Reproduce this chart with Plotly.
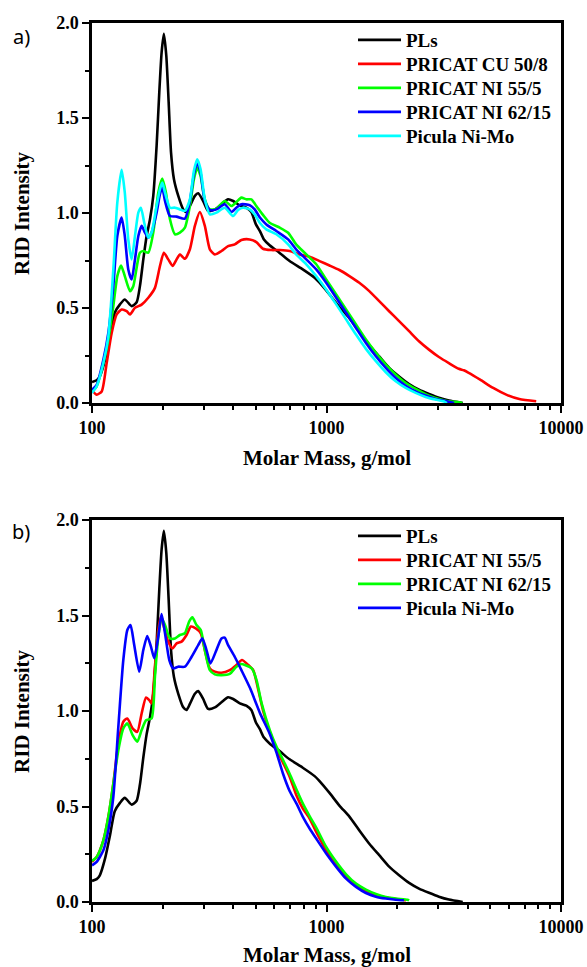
import plotly.graph_objects as go

W, H = 587, 967

# ---------------- data ----------------
# PLs (shared by both panels)
pls_M = [100, 104.7, 108, 113.7, 119.4, 125, 131.6, 138, 147.6, 155, 160.1, 165.5, 171, 176.7, 182.5, 188.6,
         193.6, 198.1, 202.5, 207.4, 212.3, 217.3, 223.6, 233.3, 245, 253, 261.5, 274.6, 283.7, 297.9, 312.8,
         334, 356.6, 380.6, 400, 427, 455, 478, 500, 520, 540, 572, 631, 696, 792, 890, 934, 1030, 1135, 1252,
         1380, 1522, 1678, 1850, 2040, 2250, 2480, 2735, 3016, 3325, 3810]
pls_I = [0.11, 0.12, 0.14, 0.228, 0.351, 0.475, 0.519, 0.545, 0.510, 0.530, 0.615, 0.756, 0.879, 0.967, 1.090,
         1.353, 1.635, 1.846, 1.943, 1.828, 1.582, 1.318, 1.178, 1.090, 1.019, 1.005, 1.037, 1.090, 1.104, 1.063,
         1.011, 1.019, 1.046, 1.072, 1.063, 1.040, 1.028, 1.005, 0.94, 0.905, 0.862, 0.83, 0.79, 0.747, 0.703,
         0.659, 0.633, 0.571, 0.505, 0.447, 0.375, 0.305, 0.245, 0.185, 0.14, 0.10, 0.07, 0.048, 0.028, 0.013, 0.0]

# Panel a
cu508_M = [100, 104.7, 110, 115.5, 121.3, 127.4, 133.8, 140.5, 145.2, 152.5, 162.8, 173.8, 185.5, 194.9, 202.5,
           211.4, 220.6, 229.5, 237, 249, 261.5, 274.6, 288.4, 302.8, 318, 334, 356.6, 380.6, 406.3, 433.6, 470.5,
           502, 536, 581, 632, 697, 768, 847, 934, 1030, 1135, 1252, 1380, 1522, 1678, 1850, 2040, 2250, 2480,
           2735, 3016, 3325, 3667, 3850, 4022, 4520, 5138, 5840, 6640, 7840]
cu508_I = [0.067, 0.044, 0.061, 0.211, 0.369, 0.466, 0.492, 0.483, 0.466, 0.501, 0.518, 0.554, 0.606, 0.721,
           0.791, 0.756, 0.721, 0.756, 0.782, 0.759, 0.809, 0.932, 1.005, 0.932, 0.809, 0.782, 0.800, 0.826, 0.835,
           0.858, 0.861, 0.847, 0.812, 0.805, 0.805, 0.800, 0.782, 0.770, 0.747, 0.724, 0.700, 0.668, 0.633, 0.589,
           0.536, 0.483, 0.431, 0.378, 0.325, 0.281, 0.242, 0.210, 0.180, 0.172, 0.160, 0.123, 0.079, 0.044, 0.021,
           0.009]

ni555a_M = [100, 104.7, 111.8, 117.4, 123.3, 128.2, 133, 138, 145.2, 150, 155, 160, 165.5, 173.8, 182.5, 191.7,
            199.4, 206.7, 215, 225.8, 237, 249, 261.5, 272, 281, 290.3, 302.8, 318, 339.5, 368, 393.2, 412.9,
            433.6, 455.4, 478, 502, 536, 572, 632, 686, 742, 820, 904, 997, 1100, 1212, 1336, 1473, 1624, 1790,
            1974, 2177, 2400, 2645, 2917, 3216, 3667, 3800]
ni555a_I = [0.061, 0.088, 0.211, 0.334, 0.510, 0.668, 0.724, 0.668, 0.589, 0.615, 0.712, 0.791, 0.800, 0.791,
            0.897, 1.107, 1.181, 1.107, 0.967, 0.888, 0.897, 0.923, 1.037, 1.178, 1.239, 1.195, 1.072, 1.019, 1.023,
            1.063, 1.037, 1.058, 1.081, 1.072, 1.072, 1.037, 0.990, 0.949, 0.923, 0.896, 0.835, 0.782, 0.730, 0.650,
            0.571, 0.492, 0.413, 0.334, 0.264, 0.202, 0.149, 0.105, 0.074, 0.047, 0.026, 0.012, 0.004, 0.0]

ni6215a_M = [100, 104.7, 111.8, 117.4, 123.3, 128.2, 133.8, 138, 142.8, 147.6, 152.5, 157.6, 162.8, 168.2, 173.8,
             179.5, 188.6, 194.9, 199.4, 204.8, 215, 229.5, 249, 261.5, 272, 281, 290.3, 302.8, 318, 339.5, 368,
             393.2, 412.9, 433.6, 470.5, 494, 520, 554, 611, 686, 742, 820, 904, 997, 1100, 1212, 1336, 1473, 1624,
             1790, 1974, 2177, 2400, 2645, 2917, 3216, 3500]
ni6215a_I = [0.070, 0.096, 0.228, 0.369, 0.615, 0.879, 0.976, 0.879, 0.703, 0.650, 0.756, 0.879, 0.932, 0.897,
             0.870, 0.897, 1.002, 1.099, 1.134, 1.063, 0.984, 0.981, 0.970, 1.063, 1.204, 1.265, 1.213, 1.063, 1.016,
             1.019, 1.046, 1.005, 1.028, 1.046, 1.041, 1.019, 0.976, 0.940, 0.905, 0.861, 0.809, 0.756, 0.703, 0.633,
             0.554, 0.475, 0.395, 0.316, 0.246, 0.185, 0.132, 0.091, 0.061, 0.039, 0.021, 0.010, 0.0]

picula_a_M = [100, 104.7, 111.8, 117.4, 123.3, 128.2, 133.8, 138, 142.8, 147.6, 152.5, 157.6, 161.7, 167, 173.8,
              179.5, 188.6, 194.9, 199.4, 204.8, 215, 225.8, 237, 249, 261.5, 272, 281, 290.3, 302.8, 318, 339.5,
              368, 399.7, 419.7, 440.8, 470.5, 494, 519, 554, 611, 686, 742, 820, 904, 997, 1100, 1212, 1336, 1473,
              1624, 1790, 1974, 2177, 2400, 2645, 2917, 3160, 3260]
picula_a_I = [0.053, 0.088, 0.211, 0.351, 0.703, 1.055, 1.227, 1.107, 0.861, 0.756, 0.879, 1.002, 1.028, 0.949,
              0.870, 0.897, 1.037, 1.125, 1.160, 1.107, 1.028, 1.028, 1.019, 1.011, 1.072, 1.222, 1.283, 1.231,
              1.072, 0.993, 1.002, 1.028, 0.984, 1.016, 1.028, 1.019, 0.993, 0.949, 0.914, 0.888, 0.835, 0.782,
              0.730, 0.668, 0.598, 0.519, 0.440, 0.360, 0.285, 0.220, 0.162, 0.114, 0.079, 0.053, 0.032, 0.018,
              0.009, 0.0]

# Panel b
ni555b_M = [100, 104.7, 111.8, 117.4, 123.3, 129.5, 136, 141.5, 149, 156, 162.8, 170, 175.5, 179.5, 185.5, 191.7,
            197, 202.5, 211.4, 220.6, 229.5, 241, 253, 264, 277, 291, 302.8, 318, 334, 356.6, 386.8, 412.9, 436,
            464, 487, 512, 538, 573, 611, 652, 697, 744, 793, 847, 904, 997, 1100, 1212, 1336, 1473, 1624, 1790,
            1974, 2107, 2180]
ni555b_I = [0.210, 0.236, 0.323, 0.446, 0.620, 0.830, 0.944, 0.961, 0.909, 0.891, 0.987, 1.071, 1.057, 1.040,
            1.232, 1.424, 1.494, 1.442, 1.363, 1.328, 1.354, 1.363, 1.398, 1.442, 1.433, 1.407, 1.319, 1.223, 1.206,
            1.200, 1.214, 1.241, 1.267, 1.241, 1.214, 1.110, 0.996, 0.89, 0.80, 0.73, 0.655, 0.559, 0.489, 0.437,
            0.367, 0.271, 0.192, 0.131, 0.088, 0.058, 0.035, 0.023, 0.016, 0.012, 0.008]

ni6215b_M = [100, 104.7, 111.8, 117.4, 123.3, 129.5, 136, 141.5, 149, 156, 162.8, 170, 179.5, 185.5, 191.7, 198,
             204.8, 215, 225.8, 237, 249, 259.5, 268, 279, 291, 302.8, 318, 334, 356.6, 386.8, 412.9, 433.6, 449,
             480, 503, 529, 573, 611, 652, 697, 744, 793, 847, 904, 997, 1100, 1212, 1336, 1473, 1624, 1790, 1974,
             2215, 2250]
ni6215b_I = [0.215, 0.236, 0.323, 0.446, 0.620, 0.795, 0.909, 0.935, 0.874, 0.839, 0.900, 0.952, 0.961, 1.179,
             1.389, 1.485, 1.450, 1.380, 1.380, 1.398, 1.407, 1.468, 1.490, 1.450, 1.424, 1.319, 1.214, 1.192, 1.188,
             1.194, 1.232, 1.246, 1.241, 1.223, 1.162, 1.040, 0.90, 0.815, 0.745, 0.67, 0.59, 0.515, 0.450, 0.390,
             0.288, 0.210, 0.145, 0.096, 0.065, 0.042, 0.026, 0.018, 0.012, 0.008]

picula_b_M = [100, 104.7, 111.8, 117.4, 123.3, 129.5, 136, 141.5, 146, 151, 159, 165.5, 172, 178.4, 184.3, 191.7,
              198, 204.8, 213.6, 222, 233, 249, 266, 283.7, 295.6, 307.8, 320, 337, 356.6, 368, 380.6, 406, 433.6,
              472, 520, 573, 611, 652, 697, 744, 793, 847, 904, 997, 1100, 1212, 1336, 1473, 1624, 1790, 1974, 2140]
picula_b_I = [0.192, 0.210, 0.271, 0.376, 0.551, 0.917, 1.267, 1.424, 1.450, 1.354, 1.206, 1.319, 1.393, 1.337,
              1.276, 1.389, 1.508, 1.407, 1.267, 1.223, 1.232, 1.232, 1.284, 1.345, 1.380, 1.319, 1.249, 1.310,
              1.380, 1.384, 1.345, 1.284, 1.214, 1.12, 0.99, 0.88, 0.785, 0.673, 0.58, 0.516, 0.446, 0.385, 0.332,
              0.254, 0.184, 0.122, 0.079, 0.047, 0.028, 0.018, 0.012, 0.009]

x_tickvals = [100, 1000, 10000]
x_ticktext = ["100", "1000", "10000"]
x_minor = [200, 300, 400, 500, 600, 700, 800, 900, 2000, 3000, 4000, 5000, 6000, 7000, 8000, 9000]

panel_a = [("PLs", pls_M, pls_I, "#000000"),
           ("PRICAT CU 50/8", cu508_M, cu508_I, "#FF0000"),
           ("PRICAT NI 55/5", ni555a_M, ni555a_I, "#00FF00"),
           ("PRICAT NI 62/15", ni6215a_M, ni6215a_I, "#0000FF"),
           ("Picula Ni-Mo", picula_a_M, picula_a_I, "#00FFFF")]
panel_b = [("PLs", pls_M, pls_I, "#000000"),
           ("PRICAT NI 55/5", ni555b_M, ni555b_I, "#FF0000"),
           ("PRICAT NI 62/15", ni6215b_M, ni6215b_I, "#00FF00"),
           ("Picula Ni-Mo", picula_b_M, picula_b_I, "#0000FF")]

# ---------------- figure ----------------
def px(x):
    return x / W

def py(y):
    return 1 - y / H

SERIF = "'Liberation Serif', 'Times New Roman', Times, serif"
fig = go.Figure()

legfont = dict(family=SERIF, size=19, color="black", weight="bold")
legends = {}
LEG_X = 353
n = 0
for traces, xa, ya, row0 in [(panel_a, "x", "y", 40), (panel_b, "x2", "y2", 536)]:
    for k, (name, M, I, c) in enumerate(traces):
        n += 1
        lname = "legend" if n == 1 else "legend%d" % n
        legends[lname] = dict(x=px(LEG_X), y=py(row0 + 24 * k), xanchor="left", yanchor="middle",
                              font=legfont, bgcolor="rgba(0,0,0,0)", borderwidth=0, itemwidth=43)
        fig.add_trace(go.Scatter(x=M, y=I, name=name, mode="lines", xaxis=xa, yaxis=ya, legend=lname,
                                 line=dict(color=c, width=2.6, shape="spline", smoothing=0.6)))

xdom = [px(92), px(561)]
ya_dom = [py(403), py(23)]
yb_dom = [py(902), py(520)]

tickfont = dict(family=SERIF, size=18, color="black", weight="bold")

def xaxis(anchor):
    return dict(type="log", range=[2, 4], domain=xdom, anchor=anchor,
                showline=True, linewidth=2.5, linecolor="black", mirror=True,
                ticks="outside", ticklen=7, tickwidth=2, tickcolor="black",
                tickvals=x_tickvals, ticktext=x_ticktext, tickfont=tickfont,
                minor=dict(tickvals=x_minor, ticks="outside", ticklen=4, tickwidth=1.5, tickcolor="black"),
                showgrid=False, zeroline=False, automargin=False)

def yaxis(anchor, dom):
    return dict(range=[0, 2], domain=dom, anchor=anchor,
                showline=True, linewidth=2.5, linecolor="black", mirror=True,
                ticks="outside", ticklen=7, tickwidth=2, tickcolor="black",
                dtick=0.5, tick0=0, tickformat=".1f", tickfont=tickfont,
                minor=dict(dtick=0.25, ticks="outside", ticklen=4, tickwidth=1.5, tickcolor="black"),
                showgrid=False, zeroline=False, automargin=False)

annotations = []
for yc_title, yc_x, lab, lab_y in [(213, 458, "a)", 36), (711, 955, "b)", 531)]:
    annotations.append(dict(text="RID Intensity", textangle=-90, x=px(22), y=py(yc_title), xref="paper",
                            yref="paper", showarrow=False, xanchor="center", yanchor="middle",
                            font=dict(family=SERIF, size=21, color="black", weight="bold")))
    annotations.append(dict(text="Molar Mass, g/mol", x=px(327), y=py(yc_x), xref="paper", yref="paper",
                            showarrow=False, xanchor="center", yanchor="middle",
                            font=dict(family=SERIF, size=21, color="black", weight="bold")))
    annotations.append(dict(text=lab, x=px(21), y=py(lab_y), xref="paper", yref="paper", showarrow=False,
                            xanchor="center", yanchor="middle",
                            font=dict(family="Noto Sans", size=20, color="black")))

fig.update_layout(
    width=W, height=H,
    margin=dict(l=0, r=0, t=0, b=0),
    paper_bgcolor="white", plot_bgcolor="white",
    xaxis=xaxis("y"), yaxis=yaxis("x", ya_dom),
    xaxis2=xaxis("y2"), yaxis2=yaxis("x2", yb_dom),
    showlegend=True,
    annotations=annotations,
    **legends,
)

fig.write_html("out.html")
